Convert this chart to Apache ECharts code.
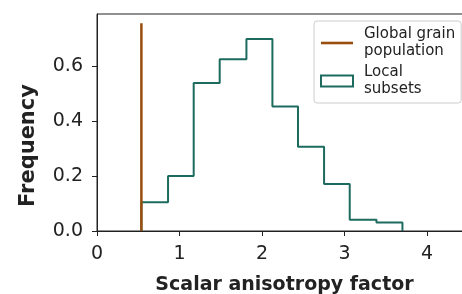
<!DOCTYPE html>
<html>
<head>
<meta charset="utf-8">
<style>
  html, body { margin: 0; padding: 0; background: #fff; }
  #main { width: 462px; height: 294px; }
</style>
<script src="https://cdn.jsdelivr.net/npm/echarts@6/dist/echarts.min.js"></script>
</head>
<body>
<div id="main"></div>
<script>
// histogram bin edges and density heights (local subsets)
var binEdges = [0.538, 0.861, 1.172, 1.487, 1.811, 2.126, 2.436, 2.752, 3.063, 3.387, 3.702];
var binHeights = [0.105, 0.200, 0.539, 0.625, 0.699, 0.453, 0.307, 0.171, 0.041, 0.031];
// global grain population value (vertical line)
var globalValue = 0.538;
var globalTop = 0.756;
var xTicks = [0, 1, 2, 3, 4];
var yTicks = [0, 0.2, 0.4, 0.6];

var brown = '#9a4e0e';
var teal = '#1d6b5e';
var ink = '#222';
var font = 'DejaVu Sans';

// step outline like matplotlib histtype='step'
var stepPts = [[binEdges[0], 0]];
for (var i = 0; i < binHeights.length; i++) {
    stepPts.push([binEdges[i], binHeights[i]]);
    stepPts.push([binEdges[i + 1], binHeights[i]]);
}
stepPts.push([binEdges[binEdges.length - 1], 0]);

var myChart = echarts.init(document.getElementById('main'));

var option = {
    animation: false,
    grid: {
        left: 97, top: 14, right: -10, bottom: 63,
        outerBoundsMode: 'none',
        containLabel: false,
        show: true, borderColor: ink, borderWidth: 1
    },
    legend: {
        orient: 'vertical',
        left: 314, top: 21,
        padding: [5, 6, 5, 6],
        itemWidth: 32, itemHeight: 11,
        itemGap: 4,
        backgroundColor: '#fff',
        borderColor: '#ccc', borderWidth: 1, borderRadius: 3,
        textStyle: { fontFamily: font, fontSize: 15, color: ink, lineHeight: 17, padding: [0, 0, 0, 6] },
        data: [
            { name: 'Global grain\npopulation', icon: 'path://M0,0H32V2.6H0Z' },
            { name: 'Local\nsubsets', icon: 'rect', itemStyle: { color: '#fff', borderColor: teal, borderWidth: 2 } }
        ]
    },
    xAxis: {
        type: 'value',
        min: 0, max: 4.545,
        name: 'Scalar anisotropy factor',
        nameLocation: 'middle',
        nameGap: 45,
        nameTextStyle: { fontFamily: font, fontSize: 19, fontWeight: 'bold', color: ink },
        splitLine: { show: false },
        axisLine: { lineStyle: { color: ink, width: 1 } },
        axisTick: { show: true, length: 5, lineStyle: { color: ink }, customValues: xTicks },
        axisLabel: { fontFamily: font, fontSize: 19, color: ink, margin: 14, customValues: xTicks }
    },
    yAxis: {
        type: 'value',
        min: 0, max: 0.79,
        name: 'Frequency',
        nameLocation: 'middle',
        nameGap: 58,
        nameTextStyle: { fontFamily: font, fontSize: 21, fontWeight: 'bold', color: ink, padding: [0, 46, 0, 0] },
        splitLine: { show: false },
        axisLine: { show: true, lineStyle: { color: ink, width: 1 } },
        axisTick: { show: true, length: 5, lineStyle: { color: ink }, customValues: yTicks },
        axisLabel: {
            fontFamily: font, fontSize: 19, color: ink, margin: 14, customValues: yTicks,
            formatter: function (v) { return v.toFixed(1); }
        }
    },
    series: [
        {
            name: 'Local\nsubsets',
            type: 'line',
            data: stepPts,
            symbol: 'none',
            lineStyle: { color: teal, width: 2 },
            itemStyle: { color: teal },
            z: 2
        },
        {
            name: 'Global grain\npopulation',
            type: 'line',
            data: [[globalValue, 0], [globalValue, globalTop]],
            symbol: 'none',
            lineStyle: { color: brown, width: 2.5 },
            itemStyle: { color: brown },
            z: 3
        }
    ]
};

myChart.setOption(option);
</script>
</body>
</html>
